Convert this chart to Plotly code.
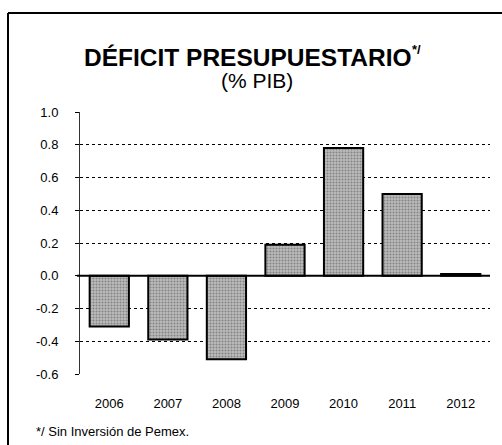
import plotly.graph_objects as go

years = ["2006", "2007", "2008", "2009", "2010", "2011", "2012"]
deficit = [-0.31, -0.39, -0.51, 0.19, 0.78, 0.50, 0.01]
y_ticks = [1.0, 0.8, 0.6, 0.4, 0.2, 0.0, -0.2, -0.4, -0.6]
y_tick_text = ["1.0", "0.8", "0.6", "0.4", "0.2", "0.0", "-0.2", "-0.4", "-0.6"]

W, H = 502, 445
ML, MR, MT, MB = 80, 12, 112, 71
PW, PH = W - ML - MR, H - MT - MB


def px_x(v):
    return (v - ML) / PW


def px_y(v):
    return (H - MB - v) / PH


font = "Liberation Sans, Arial, sans-serif"

fig = go.Figure()
fig.add_trace(go.Bar(
    x=years,
    y=deficit,
    width=0.67,
    marker=dict(
        color="#b0b0b0",
        line=dict(color="black", width=2),
        pattern=dict(shape=".", fgcolor="#4a4a4a", bgcolor="#bdbdbd",
                     size=3, solidity=0.4),
    ),
    showlegend=False,
))

fig.update_layout(
    width=W, height=H,
    margin=dict(l=ML, r=MR, t=MT, b=MB),
    paper_bgcolor="white",
    plot_bgcolor="white",
    font=dict(family=font, color="black"),
    annotations=[
        dict(text="<b>DÉFICIT PRESUPUESTARIO</b>", x=px_x(82), y=px_y(57),
             xref="paper", yref="paper", showarrow=False, xanchor="left", yanchor="middle",
             font=dict(size=24.5, family=font)),
        dict(text="<b>*/</b>", x=px_x(410), y=px_y(50),
             xref="paper", yref="paper", showarrow=False, xanchor="left", yanchor="middle",
             font=dict(size=13, family=font)),
        dict(text="(% PIB)", x=px_x(257), y=px_y(80),
             xref="paper", yref="paper", showarrow=False, xanchor="center", yanchor="middle",
             font=dict(size=21, family=font)),
        dict(text="*/ Sin Inversión de Pemex.", x=px_x(34), y=px_y(431),
             xref="paper", yref="paper", showarrow=False, xanchor="left", yanchor="middle",
             font=dict(size=13, family=font)),
    ],
    shapes=[
        dict(type="line", xref="paper", yref="paper",
             x0=px_x(8), x1=px_x(8), y0=px_y(13), y1=px_y(460),
             line=dict(color="black", width=2)),
        dict(type="line", xref="paper", yref="paper",
             x0=px_x(8), x1=px_x(520), y0=px_y(13), y1=px_y(13),
             line=dict(color="black", width=2)),
        dict(type="line", xref="paper", yref="y",
             x0=px_x(77), x1=1, y0=0, y1=0,
             line=dict(color="black", width=2)),
    ],
)

fig.update_xaxes(
    type="category",
    showgrid=False,
    showline=False,
    ticks="",
    ticklabelstandoff=20,
    tickfont=dict(size=13, family=font),
)
fig.update_yaxes(
    range=[-0.6, 1.0],
    tickvals=y_ticks,
    ticktext=y_tick_text,
    showgrid=True,
    gridcolor="black",
    gridwidth=1,
    griddash="dot",
    zeroline=False,
    showline=True,
    linecolor="#333333",
    linewidth=1,
    ticks="outside",
    ticklen=4,
    tickcolor="black",
    ticklabelstandoff=14,
    tickfont=dict(size=13, family=font),
)

fig.write_html("out.html")
